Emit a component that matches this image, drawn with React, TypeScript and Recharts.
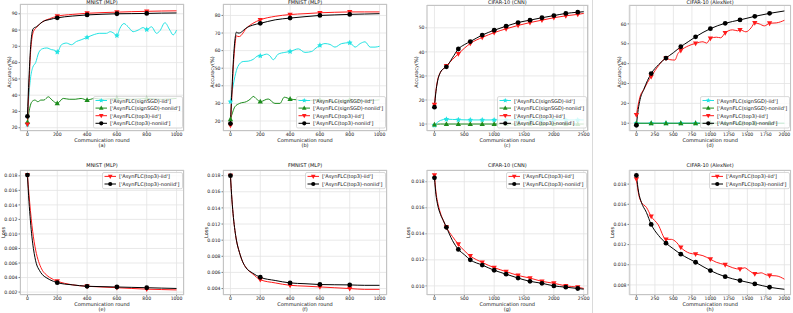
import React from 'react';
import { LineChart, Line, XAxis, YAxis, CartesianGrid } from 'recharts';

const FONT = '"DejaVu Sans", sans-serif';

// ---------- series names ----------
const NAME_SIGN_IID = "['AsynFLC(signSGD)-iid']";
const NAME_SIGN_NONIID = "['AsynFLC(signSGD)-noniid']";
const NAME_TOP3_IID = "['AsynFLC(top3)-iid']";
const NAME_TOP3_NONIID = "['AsynFLC(top3)-noniid']";

// ---------- (a) MNIST (MLP) accuracy ----------
const aSignIidX = [0, 10, 20, 35, 55, 75, 100, 130, 160, 185, 200, 228, 261, 295, 329, 360, 400, 440, 485, 530, 555, 580, 600, 620, 647, 675, 709, 743, 776, 800, 832, 866, 888, 922, 955, 977, 1000];
const aSignIidY = [22, 40, 50, 57, 60, 66, 68.5, 69, 68, 67.5, 66.5, 71, 72, 71, 73, 74, 75.5, 77, 78, 78, 79, 78, 76.6, 81, 84, 82, 79, 80, 81.5, 80.3, 82, 78, 79.5, 84.5, 80, 77, 80];
const aSignNonX = [0, 15, 30, 50, 70, 90, 110, 140, 165, 200, 240, 280, 320, 360, 400, 450, 500, 600, 700, 800, 900, 1000];
const aSignNonY = [23.5, 32, 36, 37, 36, 37, 37, 39, 37, 35, 38, 37.5, 37.5, 38, 37, 38, 37.5, 38, 37.5, 38, 37.5, 38];
const aTopX = [0, 10, 20, 30, 40, 60, 80, 100, 150, 200, 300, 400, 500, 600, 700, 800, 900, 1000];
const aTopIidY = [22, 45, 65, 75, 79, 81.5, 83.5, 85, 87, 88.5, 89.6, 90.3, 90.7, 91, 91.3, 91.5, 91.7, 91.8];
const aTopNonY = [27, 50, 68, 78, 81, 82, 83.5, 85, 86.5, 87.5, 88.6, 89.3, 89.7, 90, 90.1, 90.2, 90.4, 90.5];

// ---------- (b) FMNIST (MLP) accuracy ----------
const bSignIidX = [0, 10, 20, 30, 50, 85, 119, 152, 186, 200, 242, 265, 287, 320, 365, 400, 455, 500, 545, 567, 600, 634, 668, 701, 746, 800, 836, 870, 903, 937, 970, 1000];
const bSignIidY = [31, 36, 41, 45.3, 51, 53.8, 54, 55, 57, 57, 58, 57, 54.8, 58, 59, 59.5, 61, 59, 59.5, 61, 63, 64, 63.5, 62, 64, 64.5, 62, 64, 65, 62, 62, 62.5];
const bSignNonX = [0, 15, 29, 62, 107, 141, 152, 175, 200, 253, 298, 332, 361, 400, 450, 500, 600, 700, 800, 900, 1000];
const bSignNonY = [21, 25, 28, 30, 31, 33, 34, 32.5, 31, 32.5, 30, 30, 33.5, 32.5, 32, 31.5, 32, 31, 32, 31.5, 32];
const bTopX = [0, 10, 20, 30, 40, 50, 60, 80, 100, 150, 200, 300, 400, 500, 600, 700, 800, 900, 1000];
const bTopIidY = [17.5, 35, 52, 63, 68.5, 68, 68, 69.5, 72, 75.5, 77.5, 79.5, 80.5, 81, 81.5, 81.8, 82, 82, 82];
const bTopNonY = [18.5, 38, 55, 66, 70.5, 70, 70, 71, 72.5, 74.5, 75.5, 77.5, 78.5, 79.3, 80, 80.3, 80.6, 80.8, 81];

// ---------- (c) CIFAR-10 (CNN) accuracy ----------
const cSignX = [0, 100, 200, 400, 600, 800, 1000, 1200, 1400, 1600, 1800, 2000, 2200, 2400, 2500];
const cSignIidY = [9.5, 11.5, 12, 11.8, 11.7, 11.7, 11.7, 11.7, 11.7, 11.7, 11.7, 11.7, 11.7, 11.7, 11.7];
const cSignNonY = [9.8, 10, 10, 10, 10, 10, 10, 10, 10, 10, 10, 10, 10, 10, 10];
const cTopX = [0, 25, 50, 100, 150, 200, 300, 400, 500, 600, 800, 1000, 1200, 1400, 1600, 1800, 2000, 2200, 2400, 2500];
const cTopIidY = [18, 24, 28, 31.5, 33, 34.2, 36.8, 39.2, 41.5, 43.5, 46, 48, 49.6, 51, 52.2, 53.2, 54.2, 55, 55.6, 56];
const cTopNonY = [17, 23.5, 27.5, 31.5, 33, 33.8, 37.5, 41.2, 43, 44.3, 47, 49, 50.7, 52.2, 53.2, 54.2, 55.1, 56, 56.5, 56.7];

// ---------- (d) CIFAR-10 (AlexNet) accuracy ----------
const dSignX = [0, 200, 400, 600, 800, 1000, 1200, 1400, 1600, 1800, 2000];
const dSignIidY = [10, 10, 10, 10, 10, 10, 10, 10, 10, 10, 10];
const dSignNonY = [10, 10, 10, 10, 10, 10, 10, 10, 10, 10, 10];
const dTopIidX = [0, 50, 100, 150, 200, 300, 400, 450, 520, 560, 600, 700, 800, 900, 950, 1000, 1080, 1140, 1200, 1300, 1370, 1400, 1480, 1550, 1600, 1660, 1730, 1800, 1890, 2000];
const dTopIidY = [14.2, 23.5, 27, 30.5, 33.5, 39, 42.7, 42, 41.8, 45, 46.6, 48.9, 50.2, 51, 50.3, 52.7, 53.3, 53, 55.5, 57, 56.5, 57, 56, 58, 60.5, 60, 59, 60.3, 60.5, 61.8];
const dTopNonX = [0, 25, 50, 100, 150, 200, 300, 400, 500, 600, 700, 800, 900, 1000, 1200, 1400, 1600, 1800, 2000];
const dTopNonY = [9, 17, 22, 27, 31.5, 35, 39.5, 42.8, 45.5, 48.5, 51, 53.5, 55.7, 57.6, 60.3, 62, 63.8, 65.3, 66.5];

// ---------- (e) MNIST (MLP) loss ----------
const eX = [0, 10, 20, 30, 40, 60, 80, 100, 125, 150, 200, 250, 300, 400, 500, 600, 700, 800, 900, 1000];
const eIidY = [0.0181, 0.0155, 0.0132, 0.0112, 0.0096, 0.0073, 0.0059, 0.005, 0.0044, 0.004, 0.0035, 0.0032, 0.003, 0.0028, 0.0027, 0.0026, 0.0025, 0.0024, 0.00235, 0.0023];
const eNonY = [0.0181, 0.0145, 0.0118, 0.0096, 0.008, 0.0059, 0.005, 0.0044, 0.004, 0.0037, 0.0033, 0.0031, 0.003, 0.0028, 0.00275, 0.0027, 0.00265, 0.0026, 0.00255, 0.0025];

// ---------- (f) FMNIST (MLP) loss ----------
const fX = [0, 10, 20, 30, 40, 60, 80, 100, 150, 200, 300, 400, 500, 600, 700, 800, 900, 1000];
const fIidY = [0.018, 0.015, 0.0128, 0.0112, 0.01, 0.0085, 0.0074, 0.0067, 0.0058, 0.0051, 0.0047, 0.0044, 0.0043, 0.0042, 0.0041, 0.004, 0.0039, 0.0039];
const fNonY = [0.018, 0.015, 0.0128, 0.0112, 0.01, 0.0085, 0.0074, 0.0067, 0.0059, 0.0054, 0.005, 0.0047, 0.0046, 0.0045, 0.00447, 0.00445, 0.0044, 0.0044];

// ---------- (g) CIFAR-10 (CNN) loss ----------
const gX = [0, 25, 50, 100, 150, 200, 300, 400, 500, 600, 800, 1000, 1200, 1400, 1600, 1800, 2000, 2200, 2400, 2500];
const gIidY = [0.0185, 0.0172, 0.0165, 0.0156, 0.015, 0.0145, 0.0138, 0.0132, 0.0127, 0.0123, 0.0118, 0.0114, 0.0111, 0.0108, 0.0106, 0.01035, 0.0102, 0.01, 0.0099, 0.0098];
const gNonY = [0.0183, 0.017, 0.0163, 0.0155, 0.015, 0.0145, 0.0135, 0.0128, 0.0124, 0.012, 0.0116, 0.0112, 0.0109, 0.0106, 0.01035, 0.0102, 0.01, 0.0099, 0.0098, 0.00975];

// ---------- (h) CIFAR-10 (AlexNet) loss ----------
const hIidX = [0, 30, 67, 135, 200, 292, 400, 472, 540, 600, 719, 800, 899, 1000, 1079, 1200, 1303, 1400, 1461, 1528, 1600, 1686, 1753, 1800, 1888, 2000];
const hIidY = [0.0185, 0.017, 0.0162, 0.0157, 0.0148, 0.014, 0.01252, 0.01252, 0.01224, 0.01172, 0.01115, 0.01105, 0.0109, 0.01055, 0.01025, 0.01, 0.0097, 0.00956, 0.0097, 0.0094, 0.0091, 0.0092, 0.009, 0.00893, 0.0089, 0.00857];
const hNonX = [0, 30, 67, 135, 200, 300, 400, 500, 600, 700, 800, 900, 1000, 1200, 1400, 1600, 1800, 2000];
const hNonY = [0.01886, 0.0172, 0.0162, 0.0152, 0.014, 0.0129, 0.01214, 0.01158, 0.01105, 0.01063, 0.01025, 0.00982, 0.00942, 0.00882, 0.00843, 0.0081, 0.00777, 0.00757];

// ---------- ticks ----------
const ticks1000 = [0, 200, 400, 600, 800, 1000];
const ticks2500 = [0, 500, 1000, 1500, 2000, 2500];
const ticks2000 = [0, 250, 500, 750, 1000, 1250, 1500, 1750, 2000];
const aYTicks = [20, 30, 40, 50, 60, 70, 80, 90];
const bYTicks = [20, 30, 40, 50, 60, 70, 80];
const cYTicks = [10, 20, 30, 40, 50];
const dYTicks = [10, 20, 30, 40, 50, 60];
const eYTicks = [0.002, 0.004, 0.006, 0.008, 0.01, 0.012, 0.014, 0.016, 0.018];
const fYTicks = [0.004, 0.006, 0.008, 0.01, 0.012, 0.014, 0.016, 0.018];
const gYTicks = [0.01, 0.012, 0.014, 0.016, 0.018];
const hYTicks = [0.008, 0.01, 0.012, 0.014, 0.016, 0.018];

const CYAN = '#22e3e3';
const GREEN = '#1c8c1c';
const RED = '#ff1a1a';
const BLACK = '#000000';

type Marker = 'star' | 'up' | 'down' | 'circle';
interface S { name: string; color: string; marker: Marker; xs: number[]; ys: number[]; last: number; }

function markerShape(m: Marker, cx: number, cy: number, color: string, r = 2.4, key?: any) {
  if (m === 'circle') return <circle key={key} cx={cx} cy={cy} r={r} fill={color} />;
  if (m === 'up') return <polygon key={key} points={`${cx},${cy - r * 1.2} ${cx - r * 1.1},${cy + r * 0.8} ${cx + r * 1.1},${cy + r * 0.8}`} fill={color} />;
  if (m === 'down') return <polygon key={key} points={`${cx},${cy + r * 1.2} ${cx - r * 1.1},${cy - r * 0.8} ${cx + r * 1.1},${cy - r * 0.8}`} fill={color} />;
  const pts: string[] = [];
  for (let i = 0; i < 10; i++) {
    const rr = i % 2 === 0 ? r * 1.25 : r * 0.6;
    const a = -Math.PI / 2 + (i * Math.PI) / 5;
    pts.push(`${cx + rr * Math.cos(a)},${cy + rr * Math.sin(a)}`);
  }
  return <polygon key={key} points={pts.join(' ')} fill={color} />;
}

interface P {
  title: string; letter: string; ylabel: string;
  fl: number; ft: number; fr: number; fb: number;
  xd: [number, number]; yd: [number, number];
  xt: number[]; yt: number[]; loss: boolean;
  series: S[]; ylabelX: number; top: boolean;
}

const top4 = (sIid: S, sNon: S, tIid: S, tNon: S) => [sIid, sNon, tIid, tNon];

const panels: P[] = [
  {
    title: 'MNIST (MLP)', letter: '(a)', ylabel: 'Accuracy(%)', fl: 20, ft: 4, fr: 184, fb: 131,
    xd: [-50, 1050], yd: [18, 96], xt: ticks1000, yt: aYTicks, loss: false, ylabelX: 9, top: true,
    series: top4(
      { name: NAME_SIGN_IID, color: CYAN, marker: 'star', xs: aSignIidX, ys: aSignIidY, last: 800 },
      { name: NAME_SIGN_NONIID, color: GREEN, marker: 'up', xs: aSignNonX, ys: aSignNonY, last: 800 },
      { name: NAME_TOP3_IID, color: RED, marker: 'down', xs: aTopX, ys: aTopIidY, last: 800 },
      { name: NAME_TOP3_NONIID, color: BLACK, marker: 'circle', xs: aTopX, ys: aTopNonY, last: 800 }),
  },
  {
    title: 'FMNIST (MLP)', letter: '(b)', ylabel: 'Accuracy(%)', fl: 223, ft: 4, fr: 387, fb: 131,
    xd: [-50, 1050], yd: [14.3, 86.5], xt: ticks1000, yt: bYTicks, loss: false, ylabelX: 212, top: true,
    series: top4(
      { name: NAME_SIGN_IID, color: CYAN, marker: 'star', xs: bSignIidX, ys: bSignIidY, last: 800 },
      { name: NAME_SIGN_NONIID, color: GREEN, marker: 'up', xs: bSignNonX, ys: bSignNonY, last: 800 },
      { name: NAME_TOP3_IID, color: RED, marker: 'down', xs: bTopX, ys: bTopIidY, last: 800 },
      { name: NAME_TOP3_NONIID, color: BLACK, marker: 'circle', xs: bTopX, ys: bTopNonY, last: 800 }),
  },
  {
    title: 'CIFAR-10 (CNN)', letter: '(c)', ylabel: 'Accuracy(%)', fl: 426.5, ft: 5, fr: 588, fb: 131,
    xd: [-125, 2580], yd: [7.1, 59.5], xt: ticks2500, yt: cYTicks, loss: false, ylabelX: 416, top: true,
    series: top4(
      { name: NAME_SIGN_IID, color: CYAN, marker: 'star', xs: cSignX, ys: cSignIidY, last: 2400 },
      { name: NAME_SIGN_NONIID, color: GREEN, marker: 'up', xs: cSignX, ys: cSignNonY, last: 2400 },
      { name: NAME_TOP3_IID, color: RED, marker: 'down', xs: cTopX, ys: cTopIidY, last: 2400 },
      { name: NAME_TOP3_NONIID, color: BLACK, marker: 'circle', xs: cTopX, ys: cTopNonY, last: 2400 }),
  },
  {
    title: 'CIFAR-10 (AlexNet)', letter: '(d)', ylabel: 'Accuracy(%)', fl: 629.3, ft: 5, fr: 791, fb: 131,
    xd: [-100, 2085], yd: [6.1, 69.5], xt: ticks2000, yt: dYTicks, loss: false, ylabelX: 619, top: true,
    series: top4(
      { name: NAME_SIGN_IID, color: CYAN, marker: 'star', xs: dSignX, ys: dSignIidY, last: 1800 },
      { name: NAME_SIGN_NONIID, color: GREEN, marker: 'up', xs: dSignX, ys: dSignNonY, last: 1800 },
      { name: NAME_TOP3_IID, color: RED, marker: 'down', xs: dTopIidX, ys: dTopIidY, last: 1800 },
      { name: NAME_TOP3_NONIID, color: BLACK, marker: 'circle', xs: dTopNonX, ys: dTopNonY, last: 1800 }),
  },
  {
    title: 'MNIST (MLP)', letter: '(e)', ylabel: 'Loss', fl: 20, ft: 170, fr: 184, fb: 295,
    xd: [-50, 1050], yd: [0.0016, 0.0188], xt: ticks1000, yt: eYTicks, loss: true, ylabelX: 3, top: false,
    series: [
      { name: NAME_TOP3_IID, color: RED, marker: 'down', xs: eX, ys: eIidY, last: 800 },
      { name: NAME_TOP3_NONIID, color: BLACK, marker: 'circle', xs: eX, ys: eNonY, last: 800 }],
  },
  {
    title: 'FMNIST (MLP)', letter: '(f)', ylabel: 'Loss', fl: 223, ft: 170, fr: 387, fb: 295,
    xd: [-50, 1050], yd: [0.0032, 0.0187], xt: ticks1000, yt: fYTicks, loss: true, ylabelX: 206, top: false,
    series: [
      { name: NAME_TOP3_IID, color: RED, marker: 'down', xs: fX, ys: fIidY, last: 800 },
      { name: NAME_TOP3_NONIID, color: BLACK, marker: 'circle', xs: fX, ys: fNonY, last: 800 }],
  },
  {
    title: 'CIFAR-10 (CNN)', letter: '(g)', ylabel: 'Loss', fl: 426.5, ft: 170, fr: 588, fb: 295,
    xd: [-125, 2580], yd: [0.0093, 0.0189], xt: ticks2500, yt: gYTicks, loss: true, ylabelX: 408, top: false,
    series: [
      { name: NAME_TOP3_IID, color: RED, marker: 'down', xs: gX, ys: gIidY, last: 2400 },
      { name: NAME_TOP3_NONIID, color: BLACK, marker: 'circle', xs: gX, ys: gNonY, last: 2400 }],
  },
  {
    title: 'CIFAR-10 (AlexNet)', letter: '(h)', ylabel: 'Loss', fl: 629.3, ft: 170, fr: 791, fb: 295,
    xd: [-100, 2085], yd: [0.007, 0.0194], xt: ticks2000, yt: hYTicks, loss: true, ylabelX: 612, top: false,
    series: [
      { name: NAME_TOP3_IID, color: RED, marker: 'down', xs: hIidX, ys: hIidY, last: 1800 },
      { name: NAME_TOP3_NONIID, color: BLACK, marker: 'circle', xs: hNonX, ys: hNonY, last: 1800 }],
  },
];

const PAD_L = 40, PAD_T = 10, PAD_R = 10, PAD_B = 20;
const TICK_FONT = 4.6;
const TEXT_FONT = 5.0;

function PanelChart({ p }: { p: P }) {
  const w = p.fr - p.fl, h = p.fb - p.ft;
  return (
    <div style={{ position: 'absolute', left: p.fl - PAD_L, top: p.ft - PAD_T }}>
      <LineChart width={w + PAD_L + PAD_R} height={h + PAD_T + PAD_B}
        margin={{ top: PAD_T, right: PAD_R, left: 0, bottom: 0 }}>
        <CartesianGrid stroke="#e3e3e3" strokeWidth={0.8} />
        <XAxis type="number" dataKey="x" domain={p.xd} ticks={p.xt} interval={0} allowDataOverflow
          height={PAD_B} axisLine={false} tickSize={1.5} tickMargin={0.6}
          tickLine={{ stroke: '#333', strokeWidth: 0.6 }}
          tick={{ fontSize: TICK_FONT, fill: '#222', fontFamily: FONT }} />
        <YAxis type="number" domain={p.yd} ticks={p.yt} interval={0} allowDataOverflow
          width={PAD_L} axisLine={false} tickSize={1.5} tickMargin={1}
          tickLine={{ stroke: '#333', strokeWidth: 0.6 }}
          tickFormatter={(v: number) => (p.loss ? v.toFixed(3) : String(v))}
          tick={{ fontSize: TICK_FONT, fill: '#222', fontFamily: FONT }} />
        {p.series.map((s, si) => (
          <Line key={si} type="monotone" dataKey="y" data={s.xs.map((x, i) => ({ x, y: s.ys[i] }))}
            stroke={s.color} strokeWidth={1} isAnimationActive={false} activeDot={false}
            dot={(d: any) => {
              const k = `${si}-${d.index}`;
              if (d.payload && d.payload.x % 200 === 0 && d.payload.x <= s.last)
                return markerShape(s.marker, d.cx, d.cy, s.color, 2.4, k);
              return <g key={k} />;
            }} />
        ))}
      </LineChart>
    </div>
  );
}

function Overlay() {
  return (
    <svg width={793} height={313} style={{ position: 'absolute', left: 0, top: 0, pointerEvents: 'none' }}
      fontFamily={FONT}>
      <line x1={592.5} y1={0} x2={592.5} y2={313} stroke="#dadada" strokeWidth={1} />
      {panels.map((p, pi) => {
        const cx = (p.fl + p.fr) / 2;
        const cy = (p.ft + p.fb) / 2;
        const lw = p.top ? 89 : 80;
        const rowH = 7.6;
        const lh = p.series.length * rowH + 1;
        const lx = p.fr - 2 - lw;
        const ly = p.top ? p.fb - 3.5 - lh : p.ft + 2;
        const titleY = p.top ? 3.8 : 166.8;
        const xlabY = p.top ? 141.8 : 305.8;
        const letY = p.top ? 147.2 : 311.3;
        const ylY = p.top ? 72 : cy;
        return (
          <g key={pi}>
            <rect x={p.fl + 0.5} y={p.ft + 0.5} width={p.fr - p.fl - 1} height={p.fb - p.ft - 1}
              fill="none" stroke="#c4c4c4" strokeWidth={1} />
            <text x={cx} y={titleY} fontSize={TEXT_FONT} textAnchor="middle" fill="#111">{p.title}</text>
            <text x={cx} y={xlabY} fontSize={TEXT_FONT} textAnchor="middle" fill="#111">Communication round</text>
            <text x={cx} y={letY} fontSize={TEXT_FONT} textAnchor="middle" fill="#111">{p.letter}</text>
            <text x={p.ylabelX} y={ylY} fontSize={TEXT_FONT} textAnchor="middle" dominantBaseline="central"
              fill="#111" transform={`rotate(-90 ${p.ylabelX} ${ylY})`}>{p.ylabel}</text>
            <rect x={lx + 0.5} y={ly + 0.5} width={lw} height={lh} rx={1.5} fill="#ffffff" fillOpacity={0.8}
              stroke="#cfcfcf" strokeWidth={0.8} />
            {p.series.map((s, i) => {
              const ry = ly + 4.4 + i * rowH;
              return (
                <g key={i}>
                  <line x1={lx + 2.5} y1={ry} x2={lx + 14} y2={ry} stroke={s.color} strokeWidth={1} />
                  {markerShape(s.marker, lx + 8.25, ry, s.color, 2.1)}
                  <text x={lx + 17} y={ry} fontSize={TEXT_FONT} dominantBaseline="central" fill="#111">{s.name}</text>
                </g>
              );
            })}
          </g>
        );
      })}
    </svg>
  );
}

export default function App() {
  return (
    <div style={{ position: 'absolute', left: 0, top: 0, width: 793, height: 313, background: '#fff', overflow: 'hidden' }}>
      {panels.map((p, i) => <PanelChart key={i} p={p} />)}
      <Overlay />
    </div>
  );
}
